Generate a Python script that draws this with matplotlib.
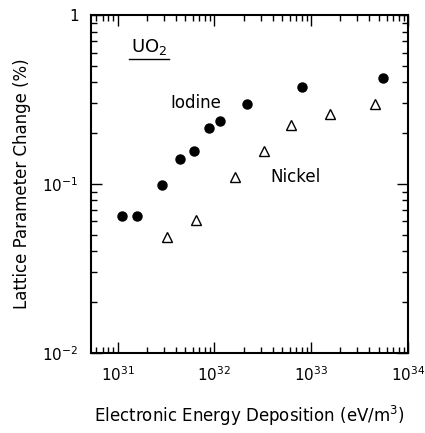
import matplotlib
matplotlib.use('Agg')
import matplotlib.pyplot as plt
from matplotlib.ticker import LogLocator, FixedLocator, NullFormatter

plt.rcParams['font.family'] = 'DejaVu Sans'

# Iodine irradiation (filled circles)
iodine_energy = [1.12e31, 1.57e31, 2.9e31, 4.45e31, 6.1e31, 8.7e31, 1.15e32, 2.15e32, 8.1e32, 5.5e33]
iodine_change = [0.065, 0.065, 0.099, 0.141, 0.157, 0.214, 0.236, 0.297, 0.375, 0.424]

# Nickel irradiation (open triangles)
nickel_energy = [3.2e31, 6.4e31, 1.64e32, 3.27e32, 6.2e32, 1.57e33, 4.6e33]
nickel_change = [0.0486, 0.0612, 0.110, 0.157, 0.223, 0.260, 0.297]

x_ticks = [1e31, 1e32, 1e33, 1e34]
x_tick_labels = [r'$10^{31}$', r'$10^{32}$', r'$10^{33}$', r'$10^{34}$']
y_ticks = [0.01, 0.1, 1]
y_tick_labels = [r'$10^{-2}$', r'$10^{-1}$', '1']

fig = plt.figure(figsize=(4.25, 4.33), dpi=100)
ax = fig.add_axes([0.214, 0.185, 0.746, 0.780])

ax.plot(iodine_energy, iodine_change, 'o', color='black', markersize=6.5, linestyle='none')
ax.plot(nickel_energy, nickel_change, '^', markerfacecolor='white', markeredgecolor='black',
        markeredgewidth=1.0, markersize=6.5, linestyle='none')

ax.set_xscale('log')
ax.set_yscale('log')
ax.set_xlim(5.3e30, 1e34)
ax.set_ylim(0.01, 1)

ax.xaxis.set_major_locator(FixedLocator(x_ticks))
ax.set_xticklabels(x_tick_labels, fontsize=11)
ax.xaxis.set_minor_locator(LogLocator(base=10, subs=range(2, 10)))
ax.xaxis.set_minor_formatter(NullFormatter())
ax.yaxis.set_major_locator(FixedLocator(y_ticks))
ax.set_yticklabels(y_tick_labels, fontsize=11)
ax.yaxis.set_minor_locator(LogLocator(base=10, subs=range(2, 10)))
ax.yaxis.set_minor_formatter(NullFormatter())

ax.tick_params(which='both', direction='in', top=True, right=True, width=1.0)
ax.tick_params(which='major', length=8, pad=9)
ax.tick_params(which='minor', length=4)
for s in ax.spines.values():
    s.set_linewidth(1.5)

ax.set_xlabel('Electronic Energy Deposition (eV/m$^3$)', fontsize=12, labelpad=14)
ax.set_ylabel('Lattice Parameter Change (%)', fontsize=12, labelpad=8)

ax.text(0.125, 0.89, r'UO$_2$', transform=ax.transAxes, fontsize=13)
ax.plot([0.12, 0.245], [0.87, 0.87], transform=ax.transAxes, color='black', linewidth=1.0)
ax.text(0.25, 0.725, 'Iodine', transform=ax.transAxes, fontsize=12)
ax.text(0.565, 0.505, 'Nickel', transform=ax.transAxes, fontsize=12)

fig.savefig('out.png', dpi=100)
